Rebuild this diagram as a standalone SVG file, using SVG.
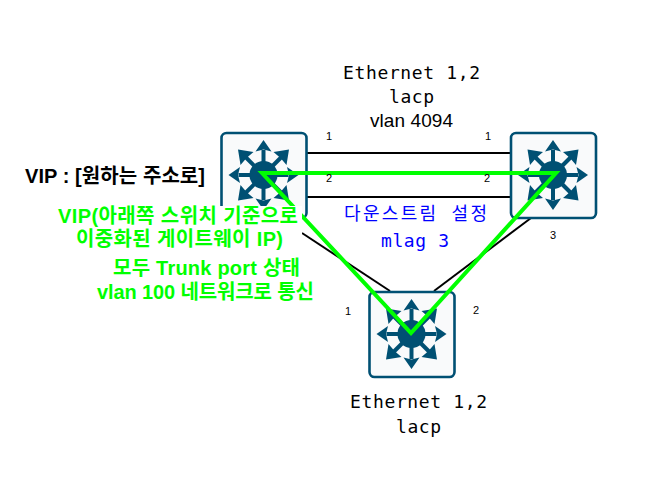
<svg xmlns="http://www.w3.org/2000/svg" width="646" height="485" viewBox="0 0 646 485">
<style>
.box{fill:#f9fafb;stroke:#005073;stroke-width:2.6}
.ink{stroke:#005073;stroke-width:4;fill:none}
.head,.hub{fill:#005073}
.wire{stroke:#000;stroke-width:2;fill:none}
.green{stroke:#00ff00;stroke-width:4;fill:none;stroke-linejoin:miter}
.port{font:11px "Liberation Sans","Noto Sans CJK KR",sans-serif;fill:#000;text-anchor:middle}
.mono{font:18px "DejaVu Sans Mono","Noto Sans CJK KR",monospace;fill:#000}
.sans{font:19px "Liberation Sans","Noto Sans CJK KR",sans-serif;fill:#000}
.blue{fill:#0000ff}
.lime{font:bold 20px "Liberation Sans","Noto Sans CJK KR",sans-serif;fill:#00ff00}
.vip{font:bold 20px "Liberation Sans","Noto Sans CJK KR",sans-serif;fill:#000}
</style>
<defs>
<g id="axis"><path class="ink" d="M0 0V-25"/><path class="head" d="M0 -35L8 -23.5L0 -25.5L-8 -23.5Z"/></g>
<g id="diag"><path class="ink" d="M0 0L18 -18"/><path class="head" d="M25.5 -25.5L23 -10L17 -17L10 -23Z"/></g>
<g id="switch">
<rect class="box" x="-42" y="-42" width="85" height="85" rx="5"/>
<circle class="hub" r="14"/>
<use href="#axis"/><use href="#axis" transform="rotate(90)"/><use href="#axis" transform="rotate(180)"/><use href="#axis" transform="rotate(270)"/>
<use href="#diag"/><use href="#diag" transform="rotate(90)"/><use href="#diag" transform="rotate(180)"/><use href="#diag" transform="rotate(270)"/>
</g>
</defs>
<rect width="646" height="485" fill="#fff"/>
<g id="connectors">
<path class="wire" d="M306 153H510"/>
<path class="wire" d="M306 197H510"/>
<path class="wire" d="M302 233L390 291"/>
<path class="wire" d="M531 218L434 291"/>
</g>
<g id="switch-left"><use href="#switch" x="263.5" y="175"/></g>
<g id="switch-right"><use href="#switch" x="553" y="175"/></g>
<g id="switch-bottom"><use href="#switch" x="411.5" y="334"/></g>
<g id="highlight"><path class="green" d="M262 173H556L411 333Z"/></g>
<g id="port-labels">
<text class="port" x="329" y="140">1</text>
<text class="port" x="329" y="182">2</text>
<text class="port" x="488" y="140">1</text>
<text class="port" x="487" y="182">2</text>
<text class="port" x="553" y="239">3</text>
<text class="port" x="348" y="315">1</text>
<text class="port" x="476" y="314">2</text>
</g>
<g id="labels">
<text class="mono" x="343" y="79" textLength="137">Ethernet 1,2</text>
<text class="mono" x="389" y="103" textLength="45">lacp</text>
<text class="sans" x="370" y="127" textLength="83">vlan 4094</text>
<text class="mono blue" x="344" y="220" textLength="143">다운스트림 설정</text>
<text class="mono blue" x="381" y="247" textLength="68">mlag 3</text>
<text class="mono" x="350" y="408" textLength="137">Ethernet 1,2</text>
<text class="mono" x="396" y="433" textLength="45">lacp</text>
<text class="vip" x="25" y="183" textLength="180">VIP : [원하는 주소로]</text>
</g>
<g id="notes">
<rect x="58" y="206" width="244" height="48" fill="#fff"/>
<text class="lime" x="58" y="223" textLength="240">VIP(아래쪽 스위치 기준으로</text>
<text class="lime" x="76" y="246" textLength="207">이중화된 게이트웨이 IP)</text>
<text class="lime" x="113" y="275" textLength="187">모두 Trunk port 상태</text>
<text class="lime" x="97" y="299" textLength="217">vlan 100 네트워크로 통신</text>
</g>
</svg>
